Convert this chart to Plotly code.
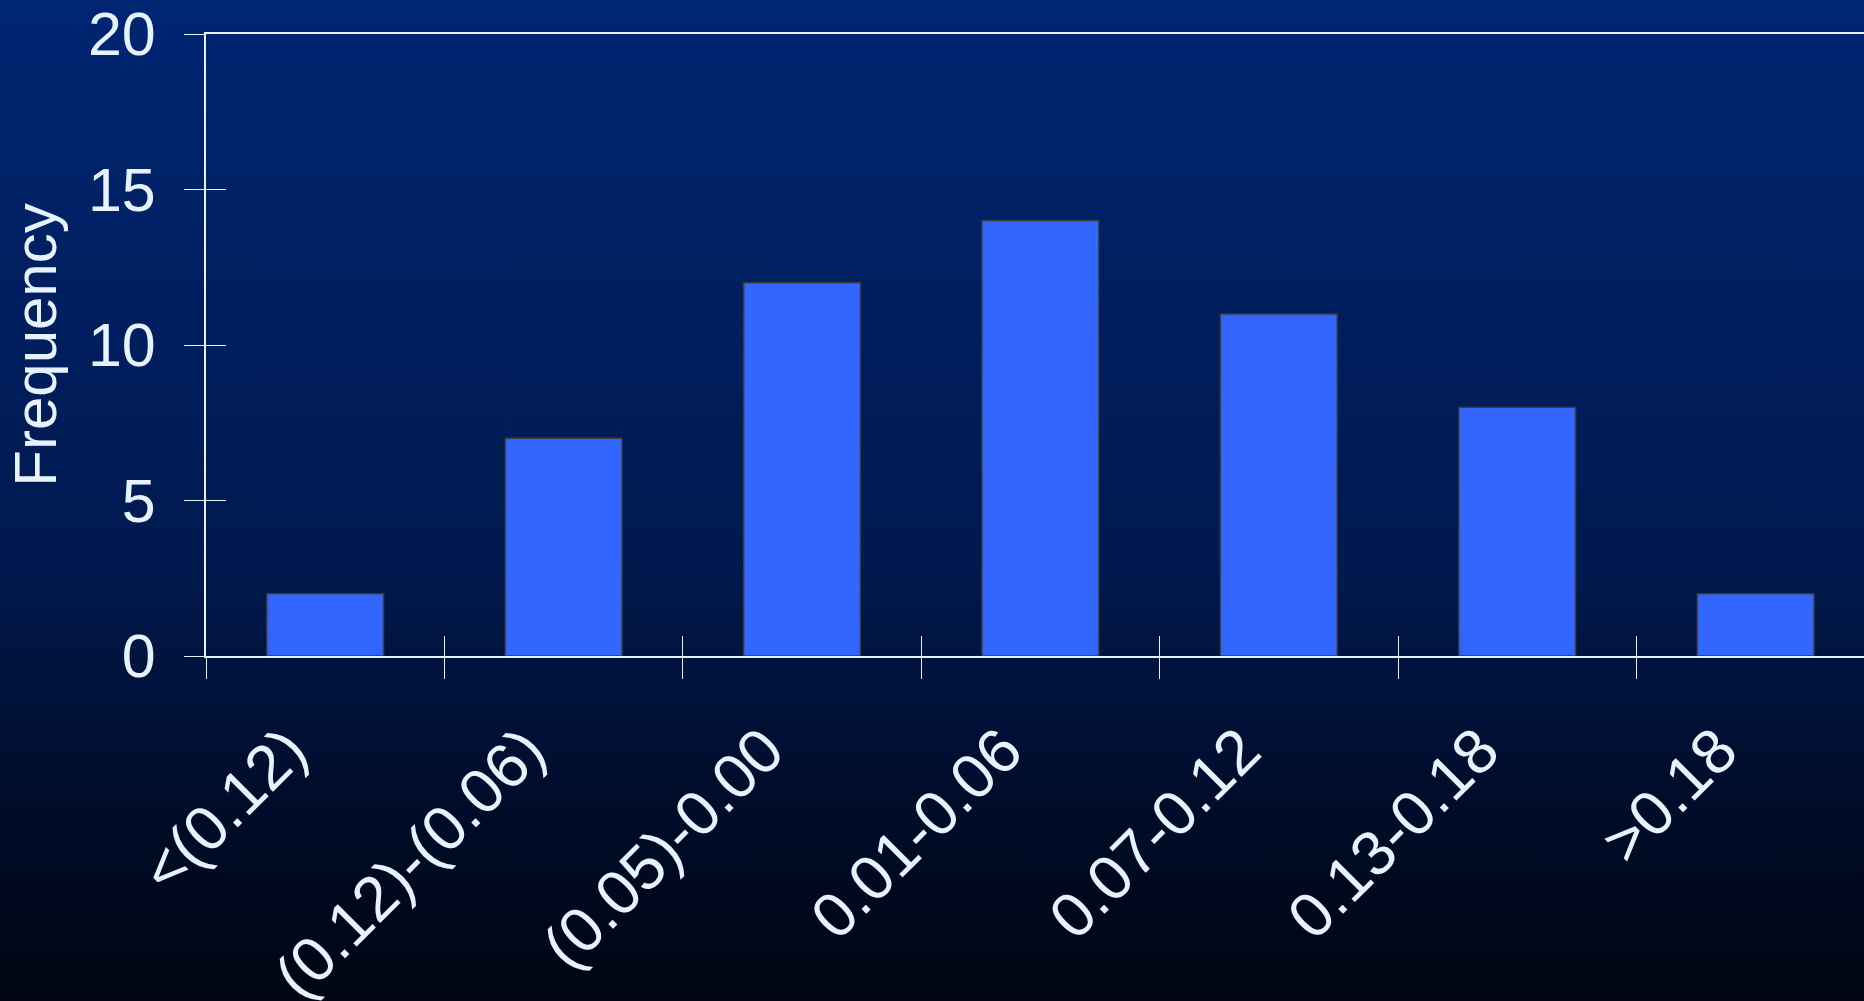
import plotly.graph_objects as go

# Histogram bins and counts
categories = ["<(0.12)", "(0.12)-(0.06)", "(0.05)-0.00", "0.01-0.06",
              "0.07-0.12", "0.13-0.18", ">0.18"]
frequency = [2, 7, 12, 14, 11, 8, 2]
y_ticks = [0, 5, 10, 15, 20]

W, H = 1864, 1001
M_L, M_R, M_T, M_B = 206, 0, 34, 345

FONT = "Arial, 'Liberation Sans', sans-serif"
TEXT_COLOR = "#e6f3ff"
LINE_COLOR = "#e6f3ff"
BAR_COLOR = "#3366ff"

# Vertical navy-to-black backdrop as an SVG gradient
bg_svg = (
    "data:image/svg+xml;utf8,"
    "<svg xmlns='http://www.w3.org/2000/svg' width='100' height='100' "
    "viewBox='0 0 100 100' preserveAspectRatio='none'>"
    "<defs><linearGradient id='g' x1='0' y1='0' x2='0' y2='1'>"
    "<stop offset='0' stop-color='%23002572'/>"
    "<stop offset='0.55' stop-color='%23001a50'/>"
    "<stop offset='0.8' stop-color='%23000c2a'/>"
    "<stop offset='1' stop-color='%23000512'/>"
    "</linearGradient></defs>"
    "<rect width='100' height='100' fill='url(%23g)'/></svg>"
)
plot_w = W - M_L - M_R
plot_h = H - M_T - M_B

x_range = [-0.5, -0.5 + plot_w / 238.4]

fig = go.Figure()
fig.add_trace(go.Bar(
    x=categories, y=frequency,
    marker=dict(color=BAR_COLOR, line=dict(color="#3c3c3c", width=1.5)),
    width=0.49, hoverinfo="skip", showlegend=False,
))
# Companion trace that carries the inward half of the cross ticks
fig.add_trace(go.Scatter(
    x=categories, y=frequency, xaxis="x2", yaxis="y2",
    mode="markers", marker=dict(opacity=0, size=1),
    hoverinfo="skip", showlegend=False,
))

fig.update_layout(
    width=W, height=H,
    margin=dict(l=M_L, r=M_R, t=M_T, b=M_B, pad=0, autoexpand=False),
    paper_bgcolor="#000512",
    plot_bgcolor="rgba(0,0,0,0)",
    font=dict(family=FONT, color=TEXT_COLOR),
    images=[dict(
        source=bg_svg, xref="paper", yref="paper",
        x=-M_L / plot_w, y=1 + M_T / plot_h,
        sizex=W / plot_w, sizey=H / plot_h,
        sizing="stretch", xanchor="left", yanchor="top",
        layer="below",
    )],
    xaxis=dict(
        type="category", categoryorder="array", categoryarray=categories,
        range=x_range, tickson="boundaries", automargin=False,
        ticks="outside", ticklen=21, tickwidth=1, tickcolor=LINE_COLOR,
        showline=True, linecolor=LINE_COLOR, linewidth=2, mirror=True,
        showgrid=False, zeroline=False,
        tickangle=-45, tickfont=dict(size=63, color=TEXT_COLOR),
        ticklabelstandoff=30, ticklabelshift=-37,
    ),
    yaxis=dict(
        range=[0, 20], tickvals=y_ticks, automargin=False,
        ticks="outside", ticklen=20, tickwidth=1, tickcolor=LINE_COLOR,
        showline=True, linecolor=LINE_COLOR, linewidth=2,
        showgrid=False, zeroline=False,
        tickfont=dict(size=61, color=TEXT_COLOR),
        ticklabelstandoff=16,
        title=dict(text="Frequency", font=dict(size=60, color=TEXT_COLOR),
                   standoff=12),
    ),
    xaxis2=dict(
        type="category", categoryorder="array", categoryarray=categories,
        overlaying="x", anchor="y2", range=x_range, tickson="boundaries",
        ticks="inside", ticklen=20, tickwidth=1, tickcolor=LINE_COLOR,
        showticklabels=False, showline=False, showgrid=False, zeroline=False,
        automargin=False,
    ),
    yaxis2=dict(
        overlaying="y", anchor="x2", side="left", range=[0, 20],
        tickvals=y_ticks, automargin=False,
        ticks="inside", ticklen=20, tickwidth=1, tickcolor=LINE_COLOR,
        showticklabels=False, showline=False, showgrid=False, zeroline=False,
    ),
)

fig.write_html("out.html")
